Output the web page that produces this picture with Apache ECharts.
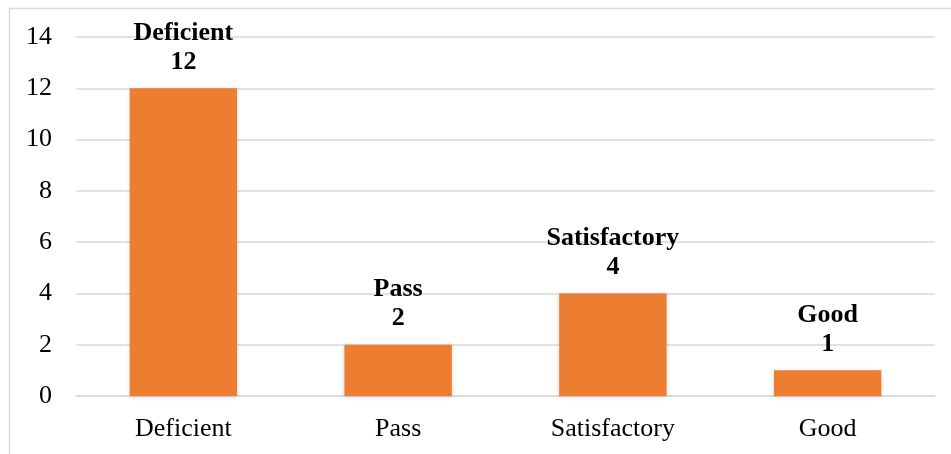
<!DOCTYPE html>
<html><head><meta charset="utf-8">
<script src="https://cdn.jsdelivr.net/npm/echarts@6/dist/echarts.min.js"></script>
<style>html,body{margin:0;padding:0;background:#fff}#c{width:951px;height:454px}</style>
</head><body><div id="c"></div>
<script>
const categories = ['Deficient', 'Pass', 'Satisfactory', 'Good'];
const values = [12, 2, 4, 1];
const yTicks = { min: 0, max: 14, interval: 2 };

const chart = echarts.init(document.getElementById('c'));
chart.setOption({
  animation: false,
  textStyle: { fontFamily: '"Liberation Serif", "Times New Roman", serif' },
  graphic: [{
    type: 'rect', shape: { x: 9.5, y: 8.5, width: 1200, height: 1200 },
    style: { fill: 'none', stroke: '#d9d9d9', lineWidth: 1.5 }, z: -1
  }],
  grid: { left: 76, right: 16, top: 37, bottom: 58 },
  xAxis: {
    type: 'category', data: categories,
    axisLine: { show: true, lineStyle: { color: '#d9d9d9', width: 1.5 } },
    axisTick: { show: false },
    axisLabel: { color: '#000', fontSize: 26, margin: 20, fontFamily: '"Liberation Serif", serif' }
  },
  yAxis: {
    type: 'value', min: yTicks.min, max: yTicks.max, interval: yTicks.interval,
    axisLine: { show: false }, axisTick: { show: false },
    splitLine: { lineStyle: { color: '#d9d9d9', width: 1.5 } },
    axisLabel: { color: '#000', fontSize: 26, margin: 24, fontFamily: '"Liberation Serif", serif' }
  },
  series: [{
    type: 'bar', data: values, barWidth: '50%',
    itemStyle: { color: '#ED7D31', shadowBlur: 4, shadowColor: 'rgba(0,0,0,0.18)', shadowOffsetY: 1 },
    label: {
      show: true, position: 'top', distance: 12,
      formatter: p => p.name + '\n' + p.value,
      color: '#000', fontWeight: 'bold', fontSize: 26, lineHeight: 29,
      fontFamily: '"Liberation Serif", serif'
    }
  }]
});
</script></body></html>
